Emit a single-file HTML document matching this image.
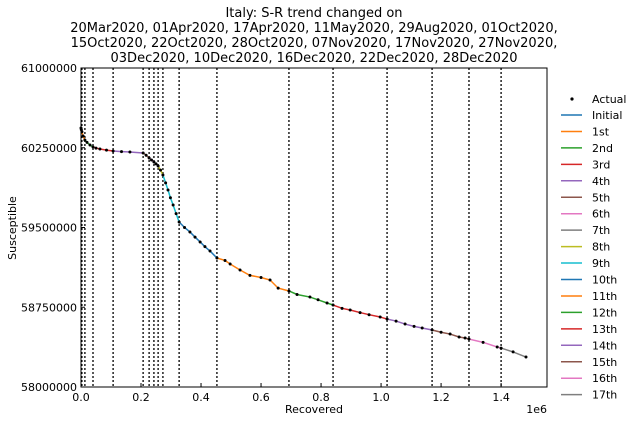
<!DOCTYPE html>
<html><head><meta charset="utf-8"><style>
body{margin:0;background:#fff;font-family:"Liberation Sans","DejaVu Sans",sans-serif}
svg text{font-family:"DejaVu Sans","Liberation Sans",sans-serif}
</style></head><body>
<svg id="c" width="637" height="422" xmlns="http://www.w3.org/2000/svg"></svg>
<script>
const titleLines=["Italy: S-R trend changed on","20Mar2020, 01Apr2020, 17Apr2020, 11May2020, 29Aug2020, 01Oct2020,","15Oct2020, 22Oct2020, 28Oct2020, 07Nov2020, 17Nov2020, 27Nov2020,","03Dec2020, 10Dec2020, 16Dec2020, 22Dec2020, 28Dec2020"];
const changeR=[0.003,0.013,0.04,0.107,0.207,0.227,0.243,0.257,0.273,0.327,0.453,0.693,0.84,1.02,1.17,1.293,1.40];
const actualR=[0,0.001,0.003,0.007,0.013,0.02,0.03,0.04,0.05,0.063,0.085,0.107,0.135,0.163,0.207,0.217,0.227,0.235,0.243,0.25,0.257,0.265,0.273,0.282,0.29,0.298,0.307,0.317,0.327,0.345,0.363,0.38,0.397,0.413,0.43,0.453,0.48,0.497,0.53,0.563,0.6,0.63,0.657,0.693,0.72,0.763,0.79,0.82,0.84,0.87,0.897,0.93,0.96,0.997,1.02,1.05,1.08,1.11,1.137,1.17,1.2,1.23,1.26,1.28,1.293,1.34,1.387,1.40,1.44,1.483];
const actualS=[60.436,60.42,60.400,60.36,60.323,60.30,60.276,60.257,60.247,60.238,60.228,60.219,60.214,60.210,60.201,60.18,60.154,60.135,60.116,60.098,60.078,60.04,59.994,59.92,59.853,59.78,59.712,59.63,59.552,59.50,59.458,59.41,59.364,59.32,59.279,59.213,59.19,59.157,59.10,59.05,59.03,59.006,58.93,58.903,58.87,58.846,58.82,58.790,58.771,58.74,58.724,58.70,58.68,58.658,58.639,58.62,58.592,58.57,58.555,58.536,58.515,58.498,58.47,58.461,58.451,58.42,58.376,58.366,58.33,58.282];
const seriesNames=["Initial","1st","2nd","3rd","4th","5th","6th","7th","8th","9th","10th","11th","12th","13th","14th","15th","16th","17th"];
const xTicks=[0,0.2,0.4,0.6,0.8,1.0,1.2,1.4];
const yTicks=[58000000,58750000,59500000,60250000,61000000];
const colors=["#1f77b4","#ff7f0e","#2ca02c","#d62728","#9467bd","#8c564b","#e377c2","#7f7f7f","#bcbd22","#17becf"];
const svg=document.getElementById('c');const NS="http://www.w3.org/2000/svg";
const L=81,R=547,T=68,B=387;
const xs=v=>L+v/1.553*(R-L);
const ys=v=>B-(v-58)/3*(B-T);
function mk(t,a,p){const e=document.createElementNS(NS,t);for(const k in a)e.setAttribute(k,a[k]);(p||svg).appendChild(e);return e;}
titleLines.forEach((s,i)=>{const t=mk('text',{x:314,y:17+i*15,'text-anchor':'middle','font-size':13});t.textContent=s;

});
changeR.forEach(r=>{const l=mk('line',{x1:xs(r),x2:xs(r),y1:T,y2:B,stroke:'#000','stroke-width':1.3,'stroke-dasharray':'2,2'});

});
const bounds=[0].concat(changeR).concat([9]);
for(let i=0;i<seriesNames.length;i++){
 const pts=[];actualR.forEach((r,j)=>{if(r>=bounds[i]-1e-9&&r<=bounds[i+1]+1e-9)pts.push(xs(r)+','+ys(actualS[j]));});
 if(pts.length<2)continue;
 const p=mk('polyline',{points:pts.join(' '),fill:'none',stroke:colors[i%10],'stroke-width':1.5});
 
 
}
actualR.forEach((r,j)=>{const c=mk('circle',{cx:xs(r),cy:ys(actualS[j]),r:1.5,fill:'#000'});

});
const fr=mk('rect',{x:L,y:T,width:R-L,height:B-T,fill:'none',stroke:'#000','stroke-width':1});


xTicks.forEach(v=>{const x=xs(v);mk('line',{x1:x,x2:x,y1:B,y2:B-4,stroke:'#000'});
const t=mk('text',{x:x,y:B+14,'text-anchor':'middle','font-size':11});t.textContent=v.toFixed(1);

});
yTicks.forEach(v=>{const y=ys(v/1e6);mk('line',{x1:L,x2:L+4,y1:y,y2:y,stroke:'#000'});
const t=mk('text',{x:77,y:y+4,'text-anchor':'end','font-size':11});t.textContent=v;

});
let t=mk('text',{x:314,y:413,'text-anchor':'middle','font-size':11});t.textContent='Recovered';


t=mk('text',{x:547,y:413,'text-anchor':'end','font-size':11});t.textContent='1e6';


t=mk('text',{x:16,y:228,'text-anchor':'middle','font-size':11,transform:'rotate(-90 16 228)'});t.textContent='Susceptible';


const lg=mk('g',{});


mk('circle',{cx:572,cy:99,r:1.6,fill:'#000'},lg);
t=mk('text',{x:592,y:103,'font-size':11},lg);t.textContent='Actual';


seriesNames.forEach((n,i)=>{const y=115+i*16.45;mk('line',{x1:561,x2:582,y1:y,y2:y,stroke:colors[i%10],'stroke-width':1.5},lg);
const tt=mk('text',{x:592,y:y+4,'font-size':11},lg);tt.textContent=n;

});
</script>
</body></html>
